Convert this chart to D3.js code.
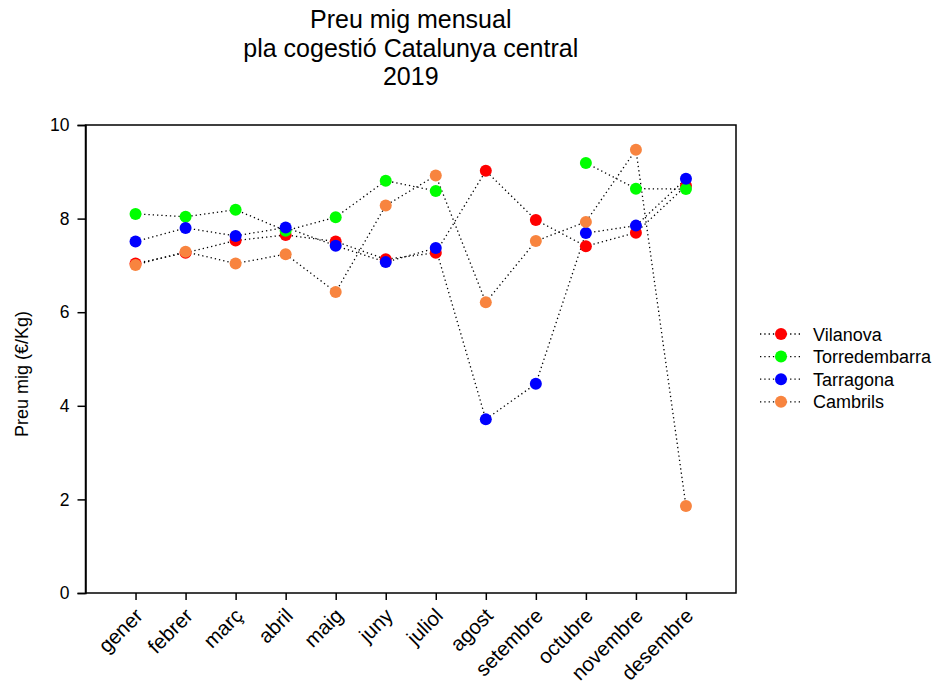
<!DOCTYPE html>
<html>
<head>
<meta charset="utf-8">
<script src="https://cdn.jsdelivr.net/npm/d3@7"></script>
<style>
  body { margin: 0; background: #fff; }
  svg { font-family: "Liberation Sans", Arial, sans-serif; }
</style>
</head>
<body>
<svg id="chart" width="941" height="688"></svg>
<script>
const months = ["gener","febrer","març","abril","maig","juny","juliol","agost","setembre","octubre","novembre","desembre"];
const seriesNames = ["Vilanova","Torredembarra","Tarragona","Cambrils"];
const seriesColors = ["#ff0000","#00ff00","#0000ff","#f8843f"];
const vilanova      = [7.04, 7.27, 7.53, 7.65, 7.51, 7.13, 7.27, 9.02, 7.97, 7.41, 7.70, 8.70];
const torredembarra = [8.10, 8.04, 8.19, 7.74, 8.03, 8.81, 8.59, null, null, 9.19, 8.64, 8.63];
const tarragona     = [7.51, 7.80, 7.63, 7.81, 7.42, 7.07, 7.37, 3.71, 4.47, 7.69, 7.85, 8.85];
const cambrils      = [7.01, 7.29, 7.04, 7.24, 6.43, 8.28, 8.92, 6.21, 7.52, 7.93, 9.47, 1.86];
const yTicks = [0, 2, 4, 6, 8, 10];
const titleLines = ["Preu mig mensual", "pla cogestió Catalunya central", "2019"];
const yLabel = "Preu mig (€/Kg)";

const allSeries = [vilanova, torredembarra, tarragona, cambrils];

const svg = d3.select("#chart");
const pLeft = 85.5, pRight = 736, pTop = 125, pBottom = 593;

const x = d3.scaleLinear().domain([0, 13]).range([pLeft, pRight]);
const y = d3.scaleLinear().domain([0, 10]).range([pBottom, pTop]);

// Title
svg.append("g").selectAll("text").data(titleLines).join("text")
  .attr("x", (pLeft + pRight) / 2)
  .attr("y", (d, i) => 28 + i * 28.5)
  .attr("text-anchor", "middle")
  .attr("font-size", 25)
  .attr("fill", "#000")
  .text(d => d);

// Frame
svg.append("rect")
  .attr("x", pLeft).attr("y", pTop)
  .attr("width", pRight - pLeft).attr("height", pBottom - pTop)
  .attr("fill", "none").attr("stroke", "#000").attr("stroke-width", 1.5);

// Y axis
const yAxis = d3.axisLeft(y).tickValues(yTicks).tickSize(8).tickPadding(8).tickFormat(d3.format("d"));
const gy = svg.append("g").attr("transform", `translate(${pLeft},0)`).call(yAxis);
gy.select(".domain").attr("stroke-width", 1.5);
gy.selectAll(".tick line").attr("stroke-width", 1.5);
gy.selectAll(".tick text").attr("font-size", 17.5).attr("font-family", "Liberation Sans, Arial, sans-serif").attr("fill", "#000");

// X axis
const xAxis = d3.axisBottom(x).tickValues(d3.range(1, 13)).tickSize(7).tickFormat(d => months[d - 1]);
const gx = svg.append("g").attr("transform", `translate(0,${pBottom})`).call(xAxis);
gx.select(".domain").remove();
gx.selectAll(".tick line").attr("stroke-width", 1.5);
gx.selectAll(".tick text")
  .attr("font-size", 20.5)
  .attr("font-family", "Liberation Sans, Arial, sans-serif")
  .attr("fill", "#000")
  .attr("text-anchor", "end")
  .attr("dy", null)
  .attr("y", null)
  .attr("transform", "translate(8,24) rotate(-45)");

// Y label
svg.append("text")
  .attr("transform", `translate(28,374) rotate(-90)`)
  .attr("text-anchor", "middle")
  .attr("font-size", 18)
  .attr("fill", "#000")
  .text(yLabel);

// Lines
const line = d3.line()
  .defined(d => d != null)
  .x((d, i) => x(i + 1))
  .y(d => y(d));

svg.append("g").selectAll("path").data(allSeries).join("path")
  .attr("d", d => line(d))
  .attr("fill", "none")
  .attr("stroke", "#000")
  .attr("stroke-width", 1.3)
  .attr("stroke-dasharray", "1.3,3");

// Markers
allSeries.forEach((s, si) => {
  svg.append("g").selectAll("circle")
    .data(s.map((v, i) => ({v, i})).filter(d => d.v != null))
    .join("circle")
    .attr("cx", d => x(d.i + 1))
    .attr("cy", d => y(d.v))
    .attr("r", 6)
    .attr("fill", seriesColors[si]);
});

// Legend
const leg = svg.append("g").attr("transform", "translate(760,334)");
const rows = leg.selectAll("g").data(seriesNames).join("g")
  .attr("transform", (d, i) => `translate(0,${i * 22.6})`);
rows.append("line")
  .attr("x1", 0).attr("x2", 40).attr("y1", 0).attr("y2", 0)
  .attr("stroke", "#000").attr("stroke-width", 1.3).attr("stroke-dasharray", "1.3,3");
rows.append("circle").attr("cx", 21).attr("cy", 0).attr("r", 6)
  .attr("fill", (d, i) => seriesColors[i]);
rows.append("text")
  .attr("x", 53).attr("y", 6.5)
  .attr("font-size", 18)
  .attr("fill", "#000")
  .text(d => d);
</script>
</body>
</html>
